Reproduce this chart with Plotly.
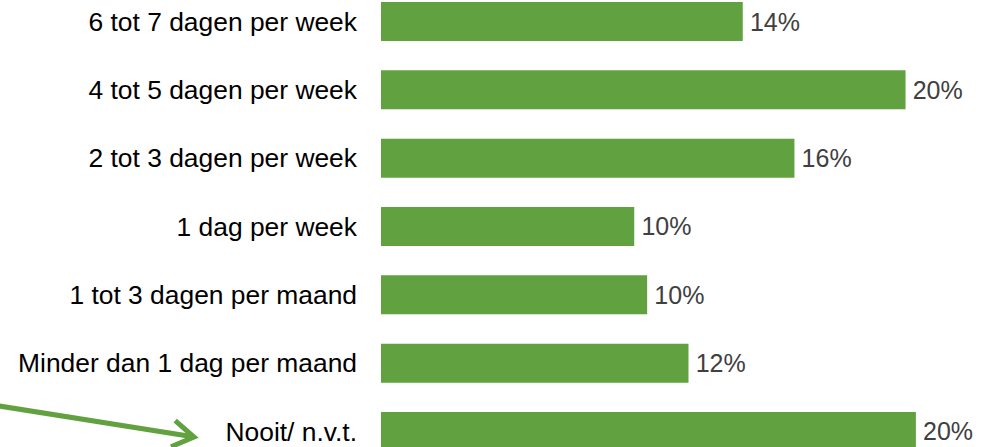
import plotly.graph_objects as go

categories = [
    "6 tot 7 dagen per week",
    "4 tot 5 dagen per week",
    "2 tot 3 dagen per week",
    "1 dag per week",
    "1 tot 3 dagen per maand",
    "Minder dan 1 dag per maand",
    "Nooit/ n.v.t.",
]
values = [14.0, 20.3, 16.0, 9.8, 10.3, 11.9, 20.7]
value_labels = ["14%", "20%", "16%", "10%", "10%", "12%", "20%"]

GREEN = "#62A13F"
W, H = 995, 447
L = 381

fig = go.Figure(
    go.Bar(
        x=values,
        y=categories,
        orientation="h",
        marker=dict(color=GREEN, line=dict(width=0)),
        text=["\u2006" + t for t in value_labels],
        textposition="outside",
        textfont=dict(family="Liberation Sans, Arial, sans-serif", size=25, color="#404040"),
        constraintext="none",
        cliponaxis=False,
        hoverinfo="skip",
    )
)


def px(x, y):
    return (x - L) / (W - L), (H - y) / H


x0, y0 = px(-5, 405.3)
x1, y1 = px(193, 436.8)
ax, ay = px(175.2, 420.6)
tx, ty = px(194, 437)
bx, by = px(171, 446.7)

fig.add_shape(type="line", xref="paper", yref="paper", x0=x0, y0=y0, x1=x1, y1=y1,
              line=dict(color=GREEN, width=5))
fig.add_shape(type="path", xref="paper", yref="paper",
              path=f"M {ax},{ay} L {tx},{ty} L {bx},{by}",
              line=dict(color=GREEN, width=5))

fig.update_layout(
    width=W,
    height=H,
    margin=dict(l=L, r=0, t=0, b=0),
    paper_bgcolor="white",
    plot_bgcolor="white",
    bargap=0.429,
    showlegend=False,
    hovermode=False,
    xaxis=dict(range=[0, (W - L) / 25.84], visible=False, fixedrange=True),
    yaxis=dict(
        type="category",
        range=[6.227, -0.3147],
        showgrid=False,
        zeroline=False,
        showline=False,
        ticks="",
        fixedrange=True,
        ticklabelstandoff=23,
        tickfont=dict(family="Liberation Sans, Arial, sans-serif", size=26.4, color="#000000"),
    ),
)

fig.write_html(
    "out.html",
    config={"displayModeBar": False, "staticPlot": True},
    post_script="document.body.style.margin='0';document.body.style.overflow='hidden';",
)
